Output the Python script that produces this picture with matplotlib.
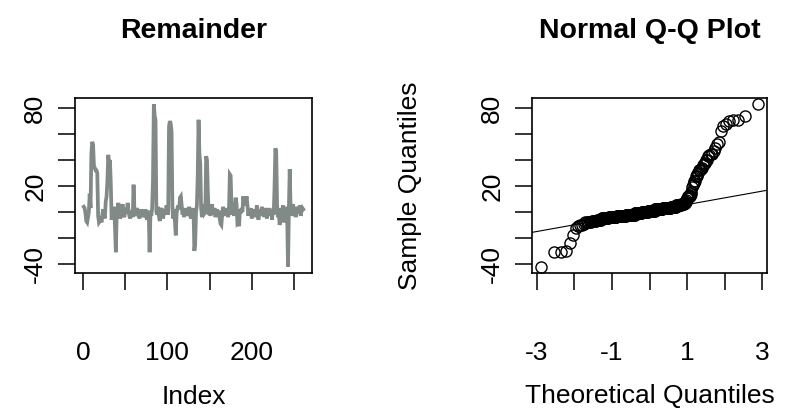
import numpy as np
import matplotlib
matplotlib.use("Agg")
import matplotlib.pyplot as plt
from statistics import NormalDist

# remainder component (index 1..261)
remainder = [
    4, 3, -1, -7, -8, -4, 0, 14, 3, 45,
    54, 52, 36, 34, 32, 32, 30, -3, -8, -7,
    -4, -8, -2, 2, -3, -5, 8, 12, 24, 44,
    38, 40, 22, -6, 1, -2, 4, -12, -31, -2,
    3, 7, -1, -5, -3, 2, 6, -2, -4, 0,
    3, -1, 7, 1, -3, -5, -2, 1, -4, 21,
    2, -3, -1, 3, 0, -2, -5, -1, 2, -3,
    0, -4, -1, 2, -3, -6, 1, -2, -31, 0,
    -3, 3, 24, 83, 74, 71, 0, -2, 4, -3,
    -7, 1, 3, -1, -5, 0, 2, -2, 5, 1,
    -2, 66, 70, 68, 62, 4, -5, 2, -7, -18,
    -1, 3, 5, 2, 11, 12, 5, -2, 1, -4,
    3, -1, 2, -3, 0, 4, -2, -5, 1, -1,
    3, -30, -24, 0, 5, 28, 71, 45, 37, 3,
    -4, 2, 6, -1, 0, 43, 40, 15, -2, 4,
    -3, 1, 6, -2, 0, 3, -4, -1, 2, -3,
    1, -5, -9, -10, -2, 4, 0, -3, 2, -1,
    3, -4, 0, 29, 28, 5, -2, 1, -3, 4,
    11, 6, -8, -7, -11, 2, -1, 3, 0, 12,
    7, 5, 9, 12, 4, -3, 1, -2, 3, -5,
    0, 2, -4, 1, -2, 5, -1, -6, 2, 0,
    -3, 4, -2, 1, -4, 3, 0, -5, 2, -1,
    3, -3, 1, -6, 2, -2, 19, 49, 47, 6,
    -4, 2, -10, -6, 3, -1, 5, -8, 1, -2,
    4, -4, -42, 2, 33, 5, -3, 1, 6, -2,
    3, -4, 1, 4, -1, 2, 5, -3, 1, 3,
    2,
]

y_ticks = [-40, -20, 0, 20, 40, 60, 80]
y_labels = ["-40", "", "", "20", "", "", "80"]
idx_ticks = [0, 50, 100, 150, 200, 250]
idx_labels = ["0", "", "100", "", "200", ""]
q_ticks = [-3, -2, -1, 0, 1, 2, 3]
q_labels = ["-3", "", "-1", "", "1", "", "3"]

plt.rcParams["font.family"] = ["Liberation Sans", "DejaVu Sans"]

y = np.array(remainder, dtype=float)
n = len(y)
x = np.arange(1, n + 1)

# qqnorm / qqline as R does it
nd = NormalDist()
probs = (np.arange(1, n + 1) - 0.5) / n
theo = np.array([nd.inv_cdf(p) for p in probs])
samp = np.sort(y)
yq = np.quantile(y, [0.25, 0.75])
xq = np.array([nd.inv_cdf(0.25), nd.inv_cdf(0.75)])
slope = (yq[1] - yq[0]) / (xq[1] - xq[0])
intercept = yq[0] - slope * xq[0]


def rlim(lo, hi):
    d = (hi - lo) * 0.04
    return lo - d, hi + d


fig = plt.figure(figsize=(7.89, 4.15), dpi=100)
ax1 = fig.add_axes([75 / 789, 1 - 273 / 415, 237 / 789, 175.3 / 415])
ax2 = fig.add_axes([532 / 789, 1 - 273 / 415, 235 / 789, 175.3 / 415])

ax1.plot(x, y, color="#828a88", lw=2.7, solid_joinstyle="miter")
ax1.set_xlim(*rlim(1, n))
ax1.set_xticks(idx_ticks)
ax1.set_xticklabels(idx_labels)
ax1.set_title("Remainder", fontsize=20.5, fontweight="bold", pad=43)
ax1.set_xlabel("Index", fontsize=19, labelpad=14)

ax2.plot(theo, samp, "o", mfc="none", mec="black", ms=8, mew=1.0)
ax2.axline((0, intercept), slope=slope, color="black", lw=0.8)
ax2.set_xlim(*rlim(theo.min(), theo.max()))
ax2.set_xticks(q_ticks)
ax2.set_xticklabels(q_labels)
ax2.set_title("Normal Q-Q Plot", fontsize=20.5, fontweight="bold", pad=43)
ax2.set_xlabel("Theoretical Quantiles", fontsize=19, labelpad=14)
ax2.set_ylabel("Sample Quantiles", fontsize=19, labelpad=42)

for ax in (ax1, ax2):
    ax.set_ylim(*rlim(y.min(), y.max()))
    ax.set_yticks(y_ticks)
    ax.set_yticklabels(y_labels, rotation=90, va="center")
    ax.tick_params(axis="both", direction="out", length=12, width=1.1,
                   labelsize=19)
    ax.tick_params(axis="x", pad=37)
    ax.tick_params(axis="y", pad=8)
    for s in ax.spines.values():
        s.set_linewidth(1.2)

fig.savefig("out.png", dpi=100)
